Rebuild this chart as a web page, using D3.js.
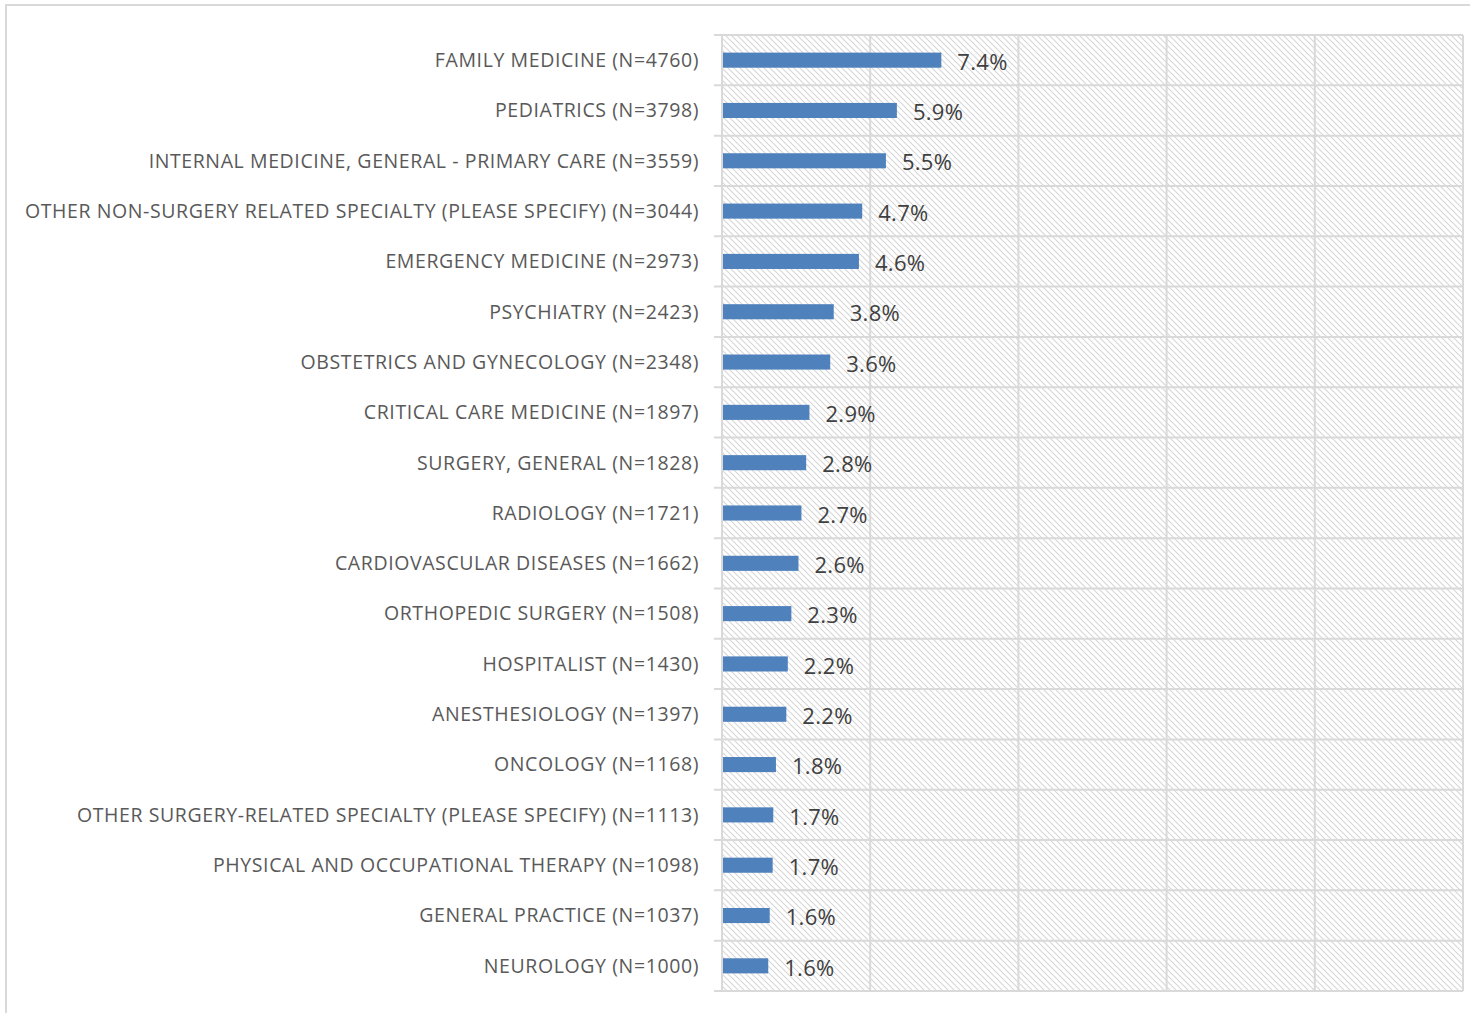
<!DOCTYPE html>
<html>
<head>
<meta charset="utf-8">
<script src="https://cdn.jsdelivr.net/npm/d3@7"></script>
<style>
  body { margin: 0; background: #ffffff; }
  .catLabel { font-family: "Open Sans", sans-serif; fill: #595959; }
  .valLabel { font-family: "Open Sans", sans-serif; fill: #404040; }
</style>
</head>
<body>
<div id="chart"></div>
<script>
// Chart data
var categories = [
  "FAMILY MEDICINE (N=4760)",
  "PEDIATRICS (N=3798)",
  "INTERNAL MEDICINE, GENERAL - PRIMARY CARE (N=3559)",
  "OTHER NON-SURGERY RELATED SPECIALTY (PLEASE SPECIFY) (N=3044)",
  "EMERGENCY MEDICINE (N=2973)",
  "PSYCHIATRY (N=2423)",
  "OBSTETRICS AND GYNECOLOGY (N=2348)",
  "CRITICAL CARE MEDICINE (N=1897)",
  "SURGERY, GENERAL (N=1828)",
  "RADIOLOGY (N=1721)",
  "CARDIOVASCULAR DISEASES (N=1662)",
  "ORTHOPEDIC SURGERY (N=1508)",
  "HOSPITALIST (N=1430)",
  "ANESTHESIOLOGY (N=1397)",
  "ONCOLOGY (N=1168)",
  "OTHER SURGERY-RELATED SPECIALTY (PLEASE SPECIFY) (N=1113)",
  "PHYSICAL AND OCCUPATIONAL THERAPY (N=1098)",
  "GENERAL PRACTICE (N=1037)",
  "NEUROLOGY (N=1000)"
];

// percent values (bar lengths)
var values = [7.40, 5.90, 5.53, 4.73, 4.62, 3.77, 3.65, 2.95, 2.84, 2.68,
              2.58, 2.34, 2.22, 2.17, 1.82, 1.73, 1.71, 1.61, 1.56];

// labels shown beside the bars
var valueLabels = ["7.4%", "5.9%", "5.5%", "4.7%", "4.6%", "3.8%", "3.6%", "2.9%", "2.8%", "2.7%",
                   "2.6%", "2.3%", "2.2%", "2.2%", "1.8%", "1.7%", "1.7%", "1.6%", "1.6%"];

var gridTicks = [0, 5, 10, 15, 20, 25];

var data = categories.map(function(c, i) {
  return { name: c, value: values[i], label: valueLabels[i] };
});

var svgWidth = 1470;
var svgHeight = 1013;

var plot = { left: 722, right: 1463, top: 35, bottom: 991 };

var svg = d3.select("#chart")
  .append("svg")
  .attr("width", svgWidth)
  .attr("height", svgHeight);

// hatch pattern for plot background
var defs = svg.append("defs");
var pattern = defs.append("pattern")
  .attr("id", "hatch")
  .attr("patternUnits", "userSpaceOnUse")
  .attr("width", 6)
  .attr("height", 6);
pattern.append("path")
  .attr("d", "M-1,-1 L7,7 M-1,5 L1,7 M5,-1 L7,1")
  .attr("stroke", "#d6d6d6")
  .attr("stroke-width", 1.1);

// outer chart border
svg.append("rect")
  .attr("x", 6)
  .attr("y", 5)
  .attr("width", svgWidth)
  .attr("height", svgHeight)
  .attr("fill", "none")
  .attr("stroke", "#d9d9d9")
  .attr("stroke-width", 2);

// scales
var xScale = d3.scaleLinear()
  .domain([0, 25])
  .range([plot.left, plot.right]);

var yScale = d3.scaleBand()
  .domain(categories)
  .range([plot.top, plot.bottom])
  .paddingInner(0.7)
  .paddingOuter(0.35);

var rowStep = (plot.bottom - plot.top) / categories.length;

// plot background
svg.append("rect")
  .attr("x", plot.left)
  .attr("y", plot.top)
  .attr("width", plot.right - plot.left)
  .attr("height", plot.bottom - plot.top)
  .attr("fill", "url(#hatch)");

// vertical gridlines
svg.append("g")
  .selectAll("line")
  .data(gridTicks)
  .enter()
  .append("line")
  .attr("x1", d => xScale(d))
  .attr("x2", d => xScale(d))
  .attr("y1", plot.top)
  .attr("y2", plot.bottom)
  .attr("stroke", "#d9d9d9")
  .attr("stroke-width", 2);

// horizontal row separators (with category tick marks)
var rowEdges = d3.range(categories.length + 1);
svg.append("g")
  .selectAll("line")
  .data(rowEdges)
  .enter()
  .append("line")
  .attr("x1", plot.left - 8)
  .attr("x2", plot.right)
  .attr("y1", d => plot.top + d * rowStep)
  .attr("y2", d => plot.top + d * rowStep)
  .attr("stroke", "#d9d9d9")
  .attr("stroke-width", 2);

// bars
svg.append("g")
  .selectAll("rect")
  .data(data)
  .enter()
  .append("rect")
  .attr("x", xScale(0) + 1)
  .attr("y", d => yScale(d.name))
  .attr("width", d => xScale(d.value) - xScale(0) - 1)
  .attr("height", yScale.bandwidth())
  .attr("fill", "#4f81bd");

// category labels
svg.append("g")
  .selectAll("text")
  .data(data)
  .enter()
  .append("text")
  .classed("catLabel", true)
  .attr("x", 699)
  .attr("y", d => yScale(d.name) + yScale.bandwidth() / 2)
  .attr("dy", "0.35em")
  .attr("text-anchor", "end")
  .style("font-size", "19.5px")
  .style("letter-spacing", "0.6px")
  .text(d => d.name);

// value labels
svg.append("g")
  .selectAll("text")
  .data(data)
  .enter()
  .append("text")
  .classed("valLabel", true)
  .attr("x", d => xScale(d.value) + 16)
  .attr("y", d => yScale(d.name) + yScale.bandwidth() / 2 + 2)
  .attr("dy", "0.35em")
  .style("font-size", "22px")
  .style("letter-spacing", "0.3px")
  .text(d => d.label);
</script>
</body>
</html>
